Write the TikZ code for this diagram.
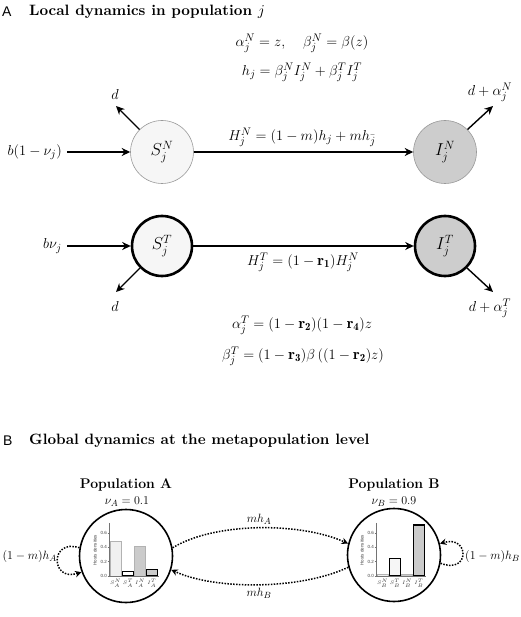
\documentclass[tikz,border=0pt]{standalone}
\usepackage{fontspec}
\usetikzlibrary{arrows.meta}
\newfontfamily\panelfont{Liberation Sans}
\definecolor{lightfill}{HTML}{F6F6F6}
\definecolor{darkfill}{HTML}{CDCDCD}
\definecolor{thinborder}{HTML}{999999}
\definecolor{barlight}{HTML}{F0F0F0}
\definecolor{bardark}{HTML}{CBCBCB}
\newcommand{\bigtitle}[1]{\scalebox{1.5}{\fontsize{10}{12}\selectfont\bfseries #1}}
\begin{document}
\begin{tikzpicture}[x=1pt,y=1pt,
  eq/.style={font=\fontsize{15.5}{18}\selectfont, inner sep=0pt},
  beq/.style={font=\fontsize{12.5}{15}\selectfont, inner sep=0pt},
  panel/.style={anchor=west, font=\panelfont\fontsize{14}{16}\selectfont, inner sep=0pt},
  paneltitle/.style={anchor=west, inner sep=0pt},
  poptitle/.style={font=\bfseries\fontsize{14}{16}\selectfont, inner sep=0pt},
  flow/.style={line width=1.4pt, -{Stealth[length=8.5pt,width=8pt]}},
  dotflow/.style={line width=1.5pt, dash pattern=on 1.5pt off 1.4pt, -{Stealth[length=6.5pt,width=6.5pt]}},
  statebase/.style={circle, inner sep=0pt, font=\fontsize{18}{21}\selectfont},
  thinstate/.style={statebase, minimum size=63pt, draw=thinborder, line width=0.6pt},
  thickstate/.style={statebase, minimum size=60pt, draw=black, line width=2.6pt},
  popcircle/.style={circle, draw=black, line width=1.6pt, minimum size=93pt, inner sep=0pt},
  ticklab/.style={font=\panelfont\fontsize{4.5}{5}\selectfont, inner sep=0.5pt, text=black!75},
  xlab/.style={font=\fontsize{5}{6}\selectfont, inner sep=0pt, anchor=north, text=black!80},
  axisline/.style={draw=black!55, line width=0.45pt},
  untreated/.style={draw=black!30, line width=0.6pt},
  treated/.style={draw=black, line width=1.3pt}
]
\useasboundingbox (0,0) rectangle (520,-617);

% ---------- Panel A ----------
\node[panel] (labA) at (2,-12) {A};
\node[paneltitle] (titA) at (29,-12) {\bigtitle{Local dynamics in population $j$}};

\node[eq] (e1) at (302,-43) {$\alpha_j^N = z,\quad \beta_j^N=\beta(z)$};
\node[eq] (e2) at (302,-72) {$h_j = \beta_j^N I_j^N + \beta_j^T I_j^T$};

\node[thinstate, fill=lightfill] (SN) at (162,-152) {$S_j^N$};
\node[thinstate, fill=darkfill] (IN) at (445,-152) {$I_j^N$};
\node[thickstate, fill=lightfill] (ST) at (162,-246) {$S_j^T$};
\node[thickstate, fill=darkfill] (IT) at (445,-246) {$I_j^T$};

\node[eq, anchor=east] (bin) at (62,-152) {$b(1-\nu_j)$};
\node[eq, anchor=east] (bnu) at (62,-246) {$b\nu_j$};
\draw[flow, shorten <=5pt] (bin) -- (SN);
\draw[flow, shorten <=5pt] (bnu) -- (ST);

\draw[flow] (SN) -- (IN);
\node[eq] (HN) at (302,-137) {$H_j^N = (1-m)h_j + m h_{\bar{j}}$};
\draw[flow] (ST) -- (IT);
\node[eq] (HT) at (303,-262) {$H_j^T = (1-\mathbf{r_1})H_j^N$};

\coordinate (dSN) at (116,-106);
\coordinate (dIN) at (493,-106);
\coordinate (dST) at (116,-292);
\coordinate (dIT) at (493,-292);
\draw[flow] (SN.135) -- (dSN);
\draw[flow] (IN.45) -- (dIN);
\draw[flow] (ST.225) -- (dST);
\draw[flow] (IT.-45) -- (dIT);
\node[eq] (ldSN) at (115,-95) {$d$};
\node[eq] (ldIN) at (490,-92) {$d+\alpha_j^N$};
\node[eq] (ldST) at (115,-306) {$d$};
\node[eq] (ldIT) at (490,-308) {$d+\alpha_j^T$};

\node[eq] (e3) at (302,-325) {$\alpha_j^T = (1-\mathbf{r_2})(1-\mathbf{r_4})z$};
\node[eq] (e4) at (303,-356) {$\beta_j^T = (1-\mathbf{r_3})\beta\left((1-\mathbf{r_2})z\right)$};

% ---------- Panel B ----------
\node[panel] (labB) at (3,-441) {B};
\node[paneltitle] (titB) at (29,-441) {\bigtitle{Global dynamics at the metapopulation level}};

\node[poptitle] (popA) at (126,-485) {Population A};
\node[beq] (nuA) at (127,-502) {$\nu_A = 0.1$};
\node[poptitle] (popB) at (394,-485) {Population B};
\node[beq] (nuB) at (394,-502) {$\nu_B = 0.9$};

\node[popcircle] (A) at (126,-556) {};
\node[popcircle] (B) at (394,-555) {};

% chart A
\begin{scope}[shift={(109,-576)}, y=71.7pt]
  \filldraw[fill=barlight, untreated] (1,0) rectangle (12,0.48);
  \filldraw[fill=white, treated] (13.5,0) rectangle (24.5,0.06);
  \filldraw[fill=bardark, untreated] (25.5,0) rectangle (36.5,0.41);
  \filldraw[fill=bardark, treated] (37.5,0) rectangle (48.5,0.09);
  \draw[axisline] (0,0.74) -- (0,0) -- (50,0);
  \foreach \v/\t in {0/0.0,0.2/0.2,0.4/0.4,0.6/0.6}{
    \draw[axisline] (-1.5,\v) -- (0,\v);
    \node[ticklab, anchor=east] (tA\t) at (-1.5,\v) {\t};
  }
  \node[ticklab, rotate=90] (ylA) at (-14,0.36) {Hosts densities};
  \node[xlab] (xA1) at (6.5,-0.04) {$S^N_A$};
  \node[xlab] (xA2) at (19,-0.04) {$S^T_A$};
  \node[xlab] (xA3) at (31,-0.04) {$I^N_A$};
  \node[xlab] (xA4) at (43,-0.04) {$I^T_A$};
\end{scope}

% chart B
\begin{scope}[shift={(376,-576)}, y=71.7pt]
  \filldraw[fill=barlight, untreated] (1,0) rectangle (12,0.02);
  \filldraw[fill=lightfill, treated] (13.5,0) rectangle (24.5,0.24);
  \filldraw[fill=bardark, untreated] (25.5,0) rectangle (36.5,0.02);
  \filldraw[fill=bardark, treated] (37.5,0) rectangle (48.5,0.71);
  \draw[axisline] (0,0.74) -- (0,0) -- (50,0);
  \foreach \v/\t in {0/0.0,0.2/0.2,0.4/0.4,0.6/0.6}{
    \draw[axisline] (-1.5,\v) -- (0,\v);
    \node[ticklab, anchor=east] (tB\t) at (-1.5,\v) {\t};
  }
  \node[ticklab, rotate=90] (ylB) at (-14,0.36) {Hosts densities};
  \node[xlab] (xB1) at (6.5,-0.04) {$S^N_B$};
  \node[xlab] (xB2) at (19,-0.04) {$S^T_B$};
  \node[xlab] (xB3) at (31,-0.04) {$I^N_B$};
  \node[xlab] (xB4) at (43,-0.04) {$I^T_B$};
\end{scope}

% migration arrows
\draw[dotflow] (A.10) .. controls (215,-522) and (300,-522) .. (B.166);
\draw[dotflow] (B.195) .. controls (300,-590) and (215,-590) .. (A.-17);
\node[beq] (mhA) at (259,-519) {$mh_A$};
\node[beq] (mhB) at (259,-593) {$mh_B$};

% self loops
\draw[dotflow] (A.170) .. controls (50,-538) and (50,-582) .. (A.200);
\draw[dotflow] (B.-10) .. controls (470,-575) and (470,-535) .. (B.14);
\node[beq, anchor=east] (selfA) at (57,-556) {$(1-m)h_A$};
\node[beq, anchor=west] (selfB) at (465,-556) {$(1-m)h_B$};
\end{tikzpicture}
\end{document}
